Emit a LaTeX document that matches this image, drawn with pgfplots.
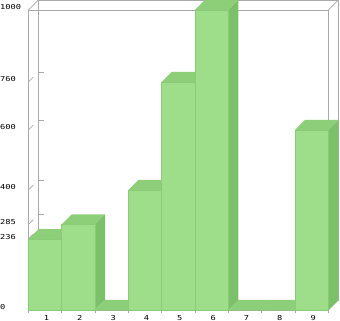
\documentclass[border=0pt]{standalone}
\usepackage{pgfplots}
\pgfplotsset{compat=1.18}
\usepackage{pgfplotstable}
\usepackage{fontspec}
\newfontfamily\tickfont[FakeStretch=1.28]{DejaVu Sans Mono}
\definecolor{frontc}{HTML}{9EDE8A}
\definecolor{topc}{HTML}{8CCF78}
\definecolor{sidec}{HTML}{7DC06A}
\definecolor{edgec}{HTML}{8BCB77}
\definecolor{framec}{HTML}{AAAAAA}

\pgfplotstableread{
x v
1 236
2 285
3 0
4 400
5 760
6 1000
7 0
8 0
9 600
}\bardata

\pgfdeclareplotmark{bartop}{%
  \pgfpathmoveto{\pgfpoint{-16.667pt}{0pt}}%
  \pgfpathlineto{\pgfpoint{16.667pt}{0pt}}%
  \pgfpathlineto{\pgfpoint{26.667pt}{10pt}}%
  \pgfpathlineto{\pgfpoint{-6.667pt}{10pt}}%
  \pgfpathclose
  \pgfusepathqfill
}
\pgfdeclareplotmark{barside}{%
  \pgfmathsetmacro\barh{\barval*0.3}%
  \pgfpathmoveto{\pgfpoint{16.667pt}{0pt}}%
  \pgfpathlineto{\pgfpoint{26.667pt}{10pt}}%
  \pgfpathlineto{\pgfpoint{26.667pt}{10pt-\barh pt}}%
  \pgfpathlineto{\pgfpoint{16.667pt}{-\barh pt}}%
  \pgfpathclose
  \pgfusepathqfill
}
\pgfdeclareplotmark{barfront}{%
  \pgfmathsetmacro\barh{\barval*0.3}%
  \pgfpathrectanglecorners{\pgfpoint{-16.667pt}{0pt}}{\pgfpoint{16.667pt}{-\barh pt}}%
  \pgfusepathqfillstroke
}

\begin{document}
\begin{tikzpicture}
\useasboundingbox (0,0) rectangle (340pt,321pt);
\begin{axis}[
  at={(28.333pt,11pt)}, anchor=south west,
  x=33.3333pt, y=0.3pt,
  xmin=0.5, xmax=9.5, ymin=0, ymax=1000,
  clip=false,
  axis line style={draw=none},
  xtick={1,...,9}, ytick={0,236,285,400,600,760,1000},
  major tick length=0pt,
  tick style={draw=none},
  ticklabel style={font=\tickfont\fontsize{6.8}{7}\selectfont, inner sep=0pt},
  xticklabel style={anchor=center, yshift=-7.7pt, xshift=1.5pt},
  yticklabel style={anchor=west, xshift=-28.333pt, yshift=2.5pt},
  /pgf/number format/assume math mode=true,
  /pgf/number format/1000 sep={},
]
% back wall and side walls
\draw[framec, line width=0.8pt] ([shift={(10pt,10pt)}]axis cs:0.5,0) rectangle ([shift={(10pt,10pt)}]axis cs:9.5,1000);
\draw[framec, line width=0.8pt] (axis cs:0.5,0) -- ++(10pt,10pt);
\draw[framec, line width=0.8pt] (axis cs:9.5,0) -- ++(10pt,10pt);
\pgfplotsinvokeforeach{236,285,400,600,760}{
  \draw[framec, line width=0.8pt] (axis cs:0.5,#1) -- ++(5pt,5pt);
  \draw[framec, line width=0.8pt] ([shift={(10pt,10pt)}]axis cs:0.5,#1) -- ++(6pt,0pt);
}
% bar sides
\addplot[scatter, only marks, mark=barside,
  scatter/use mapped color={draw=none, fill=sidec},
  visualization depends on={\thisrow{v} \as \barval}]
  table[x=x, y=v] {\bardata};
% bar tops
\addplot[scatter, only marks, mark=bartop,
  scatter/use mapped color={draw=none, fill=topc}]
  table[x=x, y=v] {\bardata};
% bar fronts
\addplot[scatter, only marks, mark=barfront,
  scatter/use mapped color={draw=edgec, fill=frontc},
  mark options={line width=0.5pt},
  visualization depends on={\thisrow{v} \as \barval}]
  table[x=x, y=v] {\bardata};
% front frame
\draw[framec, line width=0.8pt] (axis cs:0.5,0) rectangle (axis cs:9.5,1000);
\draw[framec, line width=0.8pt] (axis cs:0.5,1000) -- ++(10pt,10pt);
\draw[framec, line width=0.8pt] (axis cs:9.5,1000) -- ++(10pt,10pt);
\pgfplotsinvokeforeach{0.5,1.5,2.5,3.5,4.5,5.5,6.5,7.5,8.5,9.5}{
  \draw[framec, line width=0.8pt] (axis cs:#1,0) -- ++(0pt,-3pt);
}
\end{axis}
\end{tikzpicture}
\end{document}
